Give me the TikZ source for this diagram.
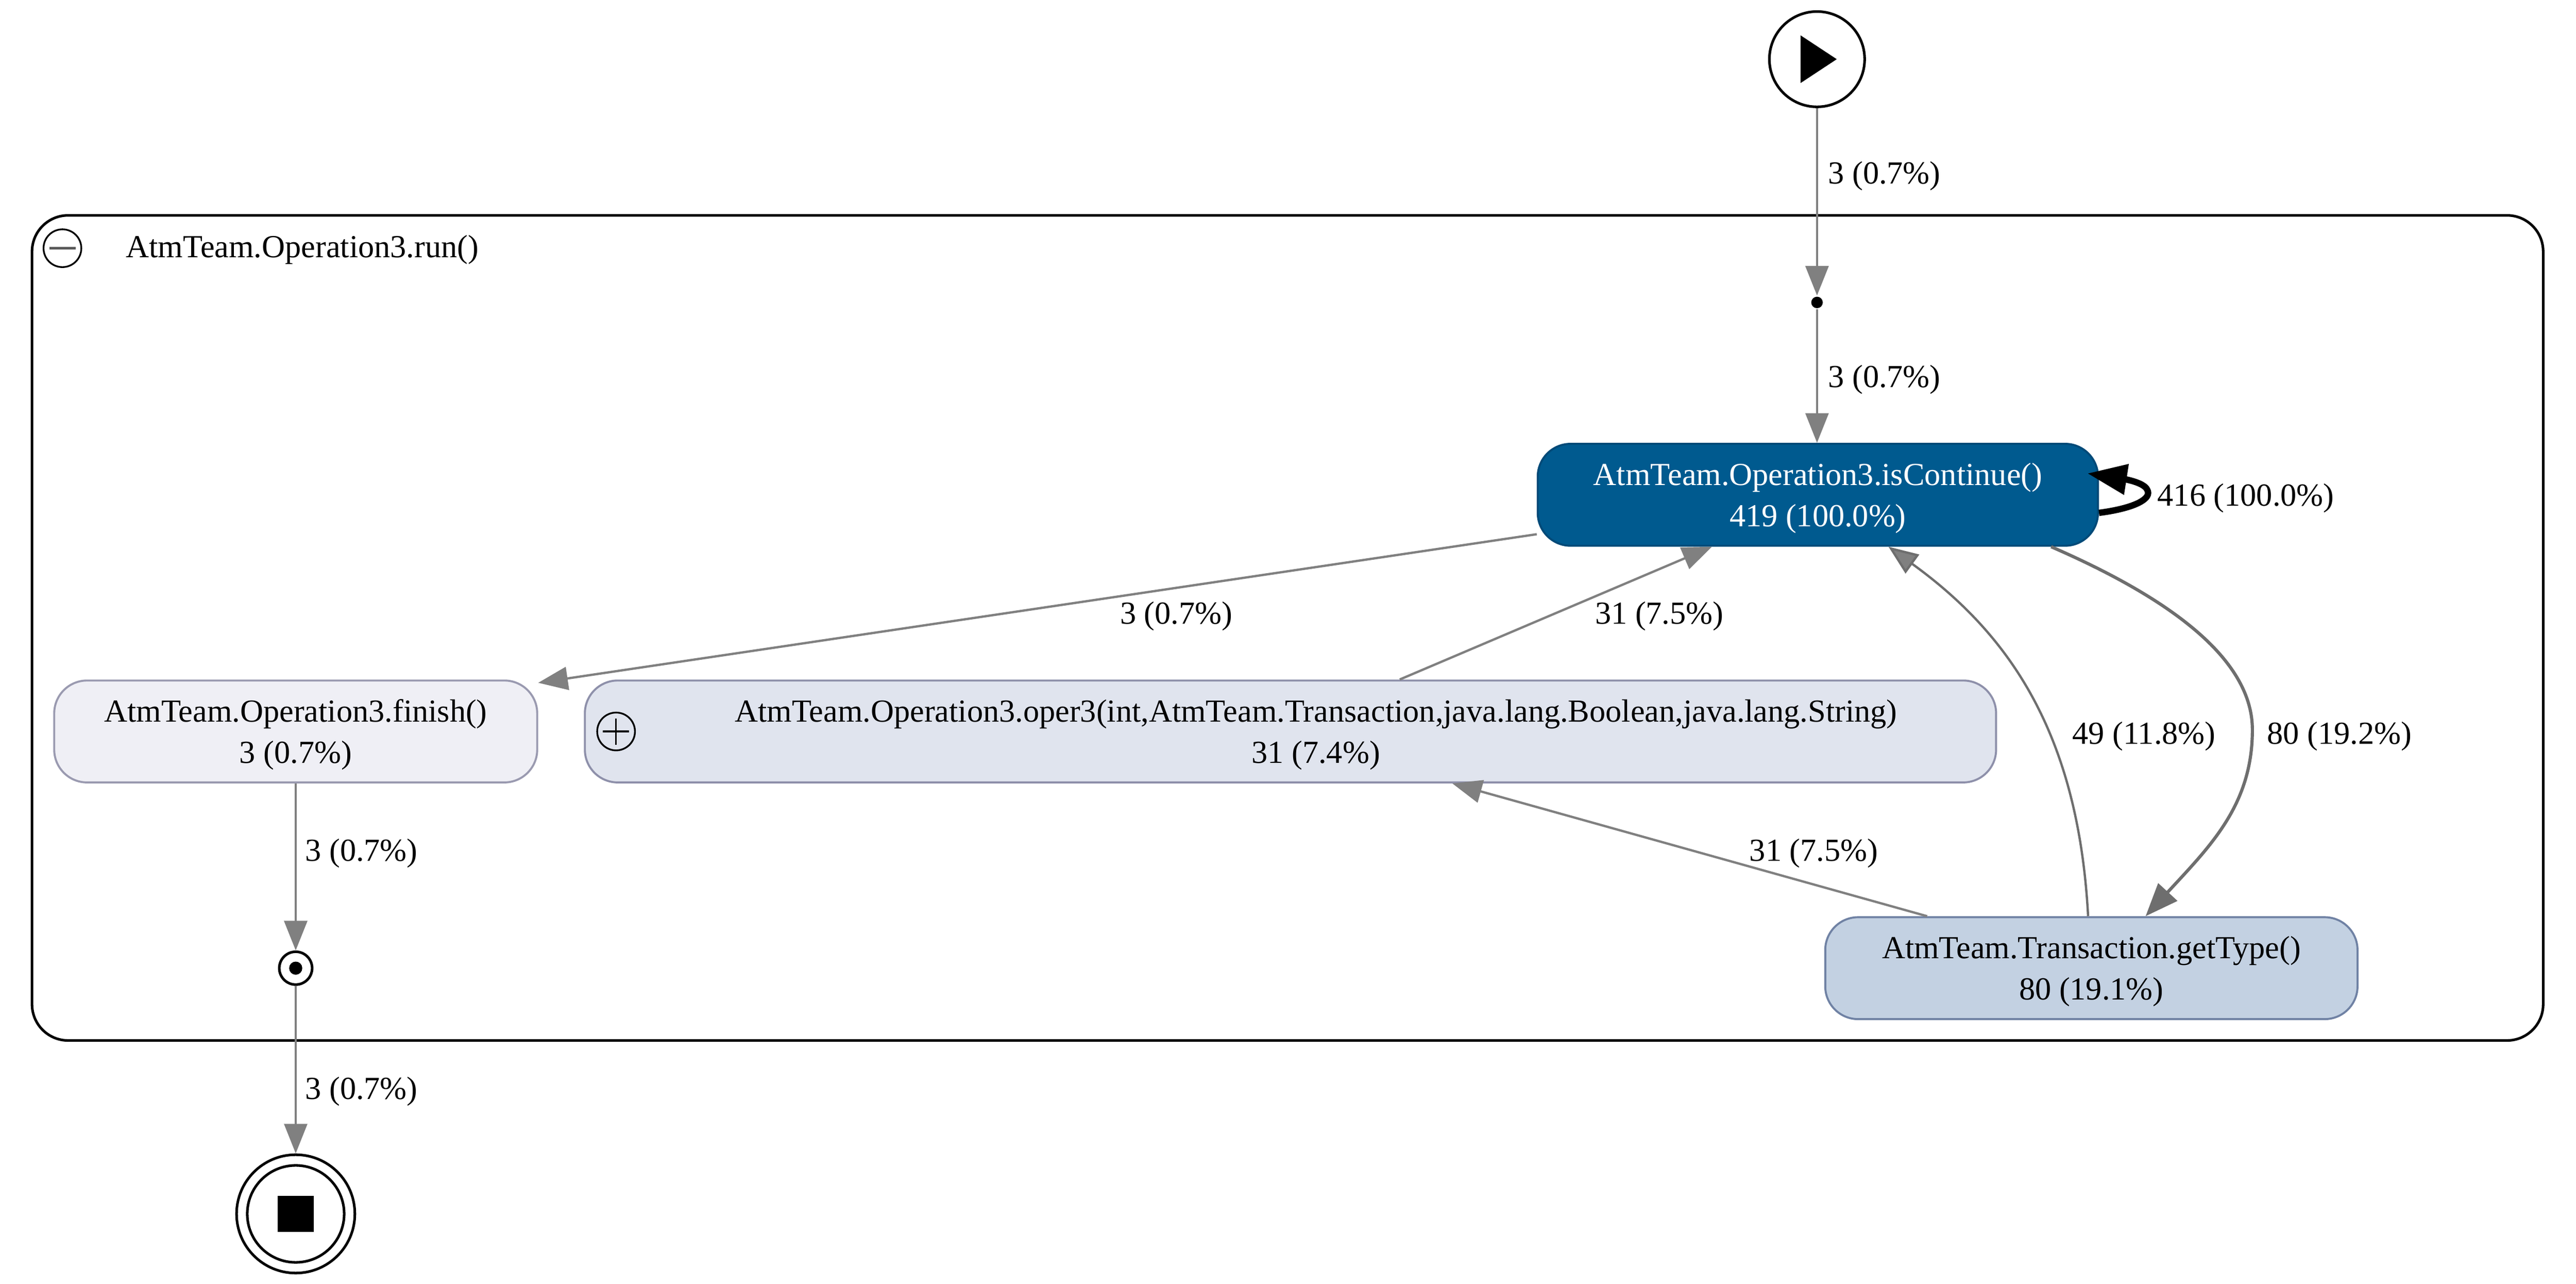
\documentclass[tikz,border=0pt]{standalone}
\usepackage{fontspec}
\setmainfont{Liberation Serif}
\usetikzlibrary{arrows.meta,calc}
\definecolor{edgegray}{HTML}{808080}
\definecolor{curvegray}{HTML}{6E6E6E}
\definecolor{hotblue}{HTML}{005A8F}
\definecolor{hotline}{HTML}{004A78}
\definecolor{paleblue}{HTML}{EFEFF5}
\definecolor{paleline}{HTML}{9A9AB0}
\definecolor{lightblue}{HTML}{E0E4EE}
\definecolor{lightline}{HTML}{8E90AA}
\definecolor{midblue}{HTML}{C3D1E2}
\definecolor{midline}{HTML}{7082A4}
\newcommand{\firstline}{\rule{0pt}{5pt}}
\tikzset{
  taskbox/.style={draw=#1,rounded corners=0.2cm,line width=0.35pt,minimum height=0.62cm,
    inner sep=0pt,align=center,font=\fontsize{5.56}{7.1}\selectfont},
  flowedge/.style={draw=edgegray,line width=0.4pt,-{Triangle[length=0.18cm,width=0.14cm,fill=edgegray]}},
  curveedge/.style={draw=curvegray,line width=0.4pt,-{Triangle[length=0.18cm,width=0.14cm,fill=edgegray]}},
  heavyedge/.style={draw=curvegray,line width=0.55pt,-{Triangle[length=0.2cm,width=0.155cm,fill=curvegray]}},
  edgelabel/.style={font=\fontsize{5.56}{7.1}\selectfont,inner sep=0pt},
  ring/.style={circle,draw=black,fill=white,inner sep=0pt,line width=0.45pt,minimum size=#1},
}
\begin{document}
\begin{tikzpicture}
  \useasboundingbox (0,0) rectangle (15.68,-7.81);
  % subprocess frame
  \draw[line width=0.45pt,rounded corners=0.22cm] (0.195,-1.31) rectangle (15.48,-6.33);
  \node[ring=0.23cm,line width=0.3pt] (minus) at (0.38,-1.51) {};
  \draw[line width=0.45pt,edgegray!70!black] ($(minus.center)+(-0.08,0)$) -- ($(minus.center)+(0.08,0)$);
  \node[edgelabel] (title) at (1.84,-1.52) {AtmTeam.Operation3.run()};

  % tasks
  \node[taskbox=hotline,fill=hotblue,text=white,minimum width=3.41cm] (isCont) at (11.065,-3.01)
    {\firstline AtmTeam.Operation3.isContinue()\\419 (100.0\%)};
  \node[taskbox=paleline,fill=paleblue,minimum width=2.94cm] (finish) at (1.80,-4.45)
    {\firstline AtmTeam.Operation3.finish()\\3 (0.7\%)};
  \node[taskbox=lightline,fill=lightblue,minimum width=8.59cm] (oper3) at (7.855,-4.45)
    {\firstline\hspace*{0.31cm}AtmTeam.Operation3.oper3(int,AtmTeam.Transaction,java.lang.Boolean,java.lang.String)\\
     \hspace*{0.31cm}31 (7.4\%)};
  \node[taskbox=midline,fill=midblue,minimum width=3.24cm] (getType) at (12.73,-5.89)
    {\firstline AtmTeam.Transaction.getType()\\80 (19.1\%)};
  \node[ring=0.23cm,line width=0.3pt,fill=none] (plus) at (3.75,-4.45) {};
  \draw[line width=0.3pt] ($(plus.center)+(-0.08,0)$) -- ($(plus.center)+(0.08,0)$);
  \draw[line width=0.3pt] ($(plus.center)+(0,-0.08)$) -- ($(plus.center)+(0,0.08)$);

  % events
  \node[ring=0.58cm] (start) at (11.06,-0.36) {};
  \fill ($(start.center)+(-0.10,0.145)$) -- ($(start.center)+(0.12,0)$) -- ($(start.center)+(-0.10,-0.145)$) -- cycle;
  \node[circle,fill=black,inner sep=0pt,minimum size=0.07cm] (entry) at (11.06,-1.84) {};
  \node[ring=0.20cm] (exit) at (1.80,-5.89) {};
  \fill (exit.center) circle (0.04);
  \node[ring=0.72cm] (stop) at (1.80,-7.385) {};
  \node[ring=0.59cm] (stopin) at (stop.center) {};
  \fill ($(stop.center)+(-0.11,-0.11)$) rectangle ($(stop.center)+(0.11,0.11)$);

  % connectors
  \draw[flowedge] (start) -- (entry);
  \draw[flowedge] (entry) -- (isCont.north -| entry);
  \draw[flowedge] ($(isCont.west)+(0,-0.24)$) -- ($(finish.north east)+(0,-0.02)$);
  \draw[flowedge] ($(oper3.north)+(0.665,0)$) -- ($(isCont.south)+(-0.645,0)$);
  \draw[flowedge] ($(getType.north)+(-1.00,0)$) -- ($(oper3.south)+(0.985,0)$);
  \draw[curveedge] ($(getType.north)+(-0.02,0)$) .. controls (12.65,-4.45) and (12.22,-3.85)
    .. ($(isCont.south)+(0.43,0)$);
  \draw[heavyedge] ($(isCont.south)+(1.42,0)$) .. controls (13.30,-3.68) and (13.71,-4.05) .. (13.71,-4.44)
    .. controls (13.71,-4.90) and (13.45,-5.15) .. ($(getType.north)+(0.33,0)$);
  \draw[line width=1.1pt,-{Triangle[length=0.24cm,width=0.18cm]}] ($(isCont.east)+(0,-0.11)$)
    .. controls +(0.23,0.03) and (13.10,-3.03) .. (13.07,-2.98)
    .. controls (13.05,-2.93) and (12.90,-2.91) .. ($(isCont.east)+(-0.07,0.13)$);
  \draw[flowedge] (finish.south) -- (exit);
  \draw[flowedge] (exit) -- (stop);

  % edge labels
  \node[edgelabel] (lbstart) at (11.47,-1.07) {3 (0.7\%)};
  \node[edgelabel] (lbentry) at (11.47,-2.31) {3 (0.7\%)};
  \node[edgelabel] (lbself) at (13.67,-3.03) {416 (100.0\%)};
  \node[edgelabel] (lbfinish) at (7.16,-3.75) {3 (0.7\%)};
  \node[edgelabel] (lbreturn) at (10.10,-3.75) {31 (7.5\%)};
  \node[edgelabel] (lbcall) at (11.04,-5.19) {31 (7.5\%)};
  \node[edgelabel] (lbback) at (13.05,-4.48) {49 (11.8\%)};
  \node[edgelabel] (lbtype) at (14.24,-4.48) {80 (19.2\%)};
  \node[edgelabel] (lbexit) at (2.20,-5.19) {3 (0.7\%)};
  \node[edgelabel] (lbstop) at (2.20,-6.64) {3 (0.7\%)};
\end{tikzpicture}
\end{document}
